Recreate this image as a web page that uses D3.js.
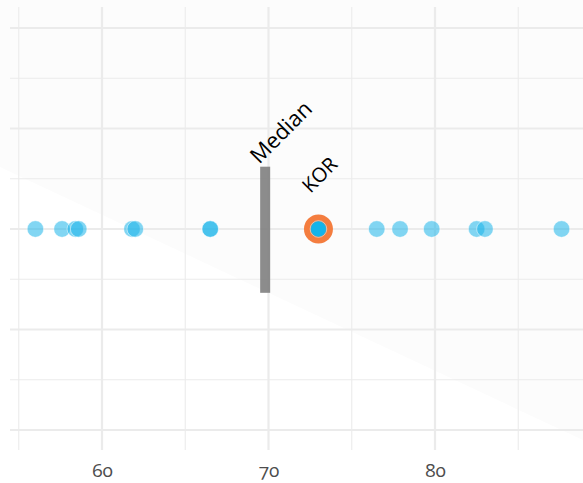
<!DOCTYPE html>
<html>
<head>
<meta charset="utf-8">
<script src="https://cdn.jsdelivr.net/npm/d3@7"></script>
<style>
  html, body { margin: 0; padding: 0; background: #ffffff; }
  svg { display: block; }
  text { font-family: "Open Sans", "Lato", sans-serif; }
</style>
</head>
<body>
<svg id="chart" width="583" height="483"></svg>
<script>
// ---- data ----
const countryValues = [56.0, 57.6, 58.4, 58.6, 61.8, 62.0, 66.5, 66.5, 73.0, 76.5, 77.9, 79.8, 82.5, 83.0, 87.6];
const highlightLabel = "KOR";
const highlightValue = 73.0;
const medianLabel = "Median";
const medianValue = 69.8;
const xMajorTicks = [60, 70, 80];
const xMinorTicks = [55, 65, 75, 85];
const xTickLabels = ["60", "70", "80"];
const yMajorTicks = [-2, -1, 0, 1, 2];
const yMinorTicks = [-1.5, -0.5, 0.5, 1.5];

// ---- layout ----
const W = 583, H = 483;
const svg = d3.select("#chart");

const x = d3.scaleLinear().domain([60, 80]).range([102, 435]);
const y = d3.scaleLinear().domain([-2, 2]).range([430, 28]);

const panelLeft = 10, panelRight = W, panelTop = 7, panelBottom = 450;

// faint background shape
svg.append("path")
  .attr("d", d3.line()([[0, 0], [W, 0], [W, 440], [0, 167]]) + "Z")
  .attr("fill", "#fcfcfc");

const grid = svg.append("g");
grid.selectAll("line.vmin").data(xMinorTicks).join("line")
  .attr("x1", d => x(d)).attr("x2", d => x(d))
  .attr("y1", panelTop).attr("y2", panelBottom)
  .attr("stroke", "#ebebeb").attr("stroke-width", 1.1);
grid.selectAll("line.hmin").data(yMinorTicks).join("line")
  .attr("x1", panelLeft).attr("x2", panelRight)
  .attr("y1", d => y(d)).attr("y2", d => y(d))
  .attr("stroke", "#ebebeb").attr("stroke-width", 1.1);
grid.selectAll("line.vmaj").data(xMajorTicks).join("line")
  .attr("x1", d => x(d)).attr("x2", d => x(d))
  .attr("y1", panelTop).attr("y2", panelBottom)
  .attr("stroke", "#ebebeb").attr("stroke-width", 2.2);
grid.selectAll("line.hmaj").data(yMajorTicks).join("line")
  .attr("x1", panelLeft).attr("x2", panelRight)
  .attr("y1", d => y(d)).attr("y2", d => y(d))
  .attr("stroke", "#ebebeb").attr("stroke-width", 2.2);

// x axis labels
const xAxis = d3.axisBottom(x).tickValues(xMajorTicks)
  .tickFormat((d, i) => xTickLabels[i]).tickSize(0).tickPadding(0);
const ax = svg.append("g").attr("transform", `translate(0, ${panelBottom + 12})`).call(xAxis);
ax.select(".domain").remove();
ax.selectAll("text")
  .attr("dy", "0.8em")
  .style("font-family", "'Open Sans', sans-serif")
  .style("font-size", "19px")
  .style("font-variant-numeric", "oldstyle-nums")
  .style("font-feature-settings", "'onum' 1")
  .attr("fill", "#4d4d4d");

// median bar
svg.append("rect")
  .attr("x", x(medianValue) - 5)
  .attr("width", 10)
  .attr("y", y(0.62))
  .attr("height", y(-0.635) - y(0.62))
  .attr("fill", "#808080")
  .attr("fill-opacity", 0.9);

// highlight ring
svg.append("circle")
  .attr("cx", x(highlightValue)).attr("cy", y(0))
  .attr("r", 14.5)
  .attr("fill", "#f47d3f");

// points
svg.append("g").selectAll("circle").data(countryValues).join("circle")
  .attr("cx", d => x(d)).attr("cy", y(0))
  .attr("r", 8.3)
  .attr("fill", "#1bb4ea")
  .attr("fill-opacity", 0.55)
  .attr("stroke", "#ffffff")
  .attr("stroke-opacity", 0.6)
  .attr("stroke-width", 0.8);

// highlight inner
svg.append("circle")
  .attr("cx", x(highlightValue)).attr("cy", y(0))
  .attr("r", 7.5)
  .attr("fill", "#14b4ea");

// labels
svg.append("text")
  .attr("transform", `translate(${x(medianValue) - 6}, ${y(0.62) - 2}) rotate(-45)`)
  .attr("font-size", "22px")
  .attr("fill", "#000")
  .text(medianLabel);

svg.append("text")
  .attr("transform", `translate(${x(highlightValue) - 8}, ${y(0) - 35}) rotate(-45)`)
  .attr("font-size", "20px")
  .attr("fill", "#000")
  .text(highlightLabel);
</script>
</body>
</html>
